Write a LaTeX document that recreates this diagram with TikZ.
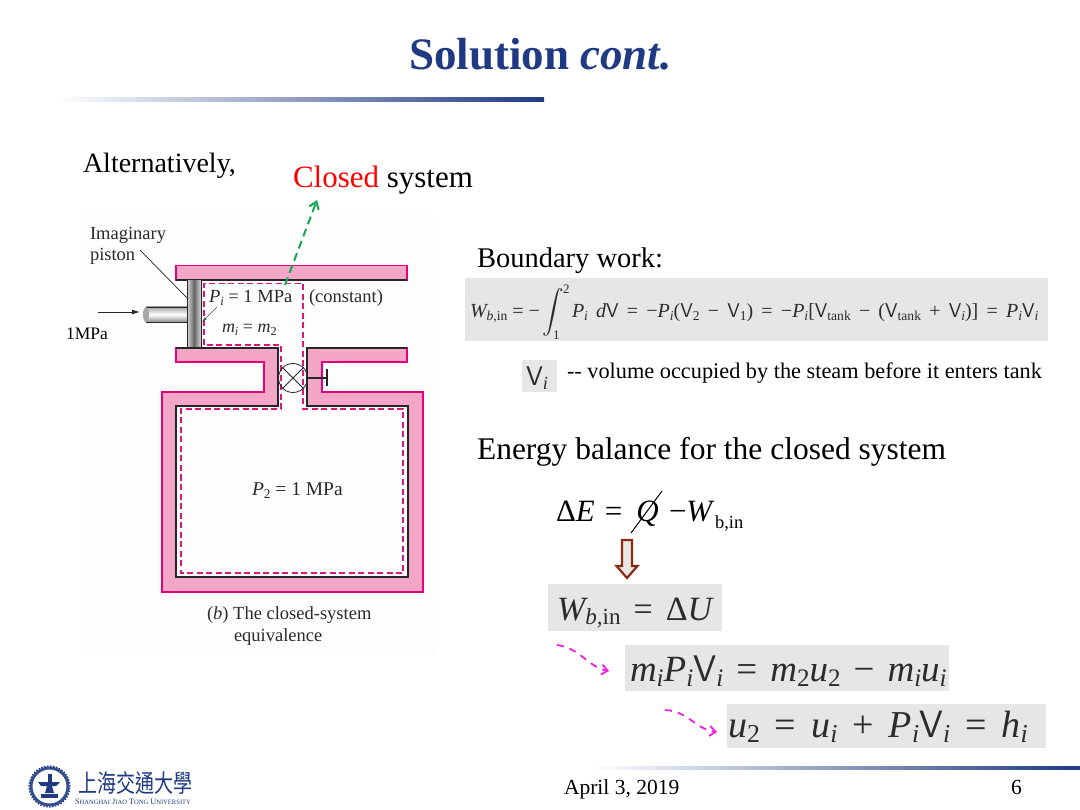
\documentclass[tikz,border=0pt]{standalone}
\usepackage{fontspec}
\setmainfont{Liberation Serif}
\newfontfamily\uif{Liberation Serif}
\newfontfamily\cjkf{Noto Sans CJK TC}
\usetikzlibrary{arrows.meta}
\definecolor{navy}{HTML}{1F3A82}
\definecolor{wallfill}{HTML}{F4A6C6}
\definecolor{wallline}{HTML}{E6007E}
\definecolor{eqgrey}{HTML}{E6E6E6}
\definecolor{inktxt}{HTML}{2B2B2B}
\definecolor{dashpink}{HTML}{D6187F}
\definecolor{dgreen}{HTML}{12A84E}
\definecolor{brownred}{HTML}{8B2A10}
\definecolor{arrowpink}{HTML}{F020E0}
\newcommand{\Vv}{{\sffamily V}}
\newcommand{\lo}[1]{\raisebox{-.32ex}{\scalebox{.68}{#1}}}
\newcommand{\ilo}[1]{\raisebox{-.32ex}{\scalebox{.68}{\itshape #1}}}
\newcommand{\gp}{\hspace{15pt}}
\newcommand{\gq}{\hspace{13pt}}
\tikzset{
 txt/.style={anchor=base west,inner sep=0pt,outer sep=0pt},
 body/.style={txt,font=\uif\fontsize{28.5}{30}\selectfont},
 fig/.style={txt,text=inktxt,font=\fontsize{18.5}{20}\selectfont},
 wall/.style={fill=wallfill,draw=wallline,line width=1.7pt,line join=miter},
 blk/.style={draw=black!85,line width=2pt},
 sysdash/.style={draw=dashpink,line width=1.4pt,dash pattern=on 6pt off 3.5pt},
 pinkarrow/.style={draw=arrowpink,line width=1.8pt,dash pattern=on 7pt off 6pt,-{Straight Barb[length=6pt,width=10pt]}},
}
\begin{document}
\begin{tikzpicture}[x=1pt,y=-1pt]
\useasboundingbox (0,0) rectangle (1080,810);
\fill[white] (0,0) rectangle (1080,810);
% title
\node[txt,text=navy,font=\uif\bfseries\fontsize{45}{48}\selectfont] (title) at (409,70) {Solution \textit{cont.}};
\shade[left color=white,right color=navy] (56,97.5) rectangle (544,102);
% texts
\node[body,font=\uif\fontsize{28}{30}\selectfont] (alt) at (83,173) {Alternatively,};
\node[body,font=\uif\fontsize{31}{33}\selectfont] (closed) at (293,188) {\textcolor{red}{Closed} system};
\node[body] (bw) at (477,268) {Boundary work:};
\node[body,font=\uif\fontsize{31.5}{33}\selectfont] (eb) at (477,460) {Energy balance for the closed system};
% figure background
\fill[black!0.8] (80,215) rectangle (436,655);
% walls
\draw[wall] (176,265.5) rectangle (407,280);
\draw[wall] (176,348)--(278,348)--(278,406)--(176,406)--(176,577)--(408,577)--(408,406)--(307,406)--(307,348)--(407,348)--(407,362)--(322,362)--(322,392)--(423,392)--(423,592)--(162,592)--(162,392)--(264,392)--(264,362)--(176,362)--cycle;
\draw[blk] (176,280)--(407,280);
\draw[blk] (176,348)--(278,348)--(278,406)--(176,406)--(176,577)--(408,577)--(408,406)--(307,406)--(307,348)--(407,348);
% rod and piston
\shade[top color=black!35,bottom color=black!45,middle color=white] (146,307) rectangle (187,322);
\draw[black!85,line width=.8pt] (146,307)--(187,307) (146,322)--(187,322);
\fill[black!35] (146,314.5) ellipse (3pt and 7.5pt);
\shade[left color=black!15,right color=black!60] (187,280) rectangle (194,348);
\shade[left color=black!60,right color=black!15] (194,280) rectangle (201,348);
\draw[black!85,line width=1pt] (187,280) rectangle (201,348);
% system boundary
\draw[sysdash] (204,345)--(204,283.5)--(303,283.5)--(303,409)--(403,409)--(403,573)--(181,573)--(181,409)--(281,409)--(281,345)--cycle;
% valve
\node[circle,draw=black!85,line width=.8pt,minimum size=29pt,inner sep=0pt] (valve) at (293,378) {};
\draw[black!85,line width=.8pt] (valve.45)--(valve.225) (valve.135)--(valve.315);
\coordinate (stemend) at (327,378);
\draw[black!85,line width=1.1pt] (valve.east)--(stemend);
\draw[black!85,line width=2pt] (327,369)--(327,386);
% figure labels
\node[fig] (imag) at (90,240) {Imaginary};
\node[fig] (pist) at (90,261) {piston};
\coordinate (pa) at (140,250); \coordinate (pb) at (187,298);
\draw[black!85,line width=.7pt] (pa)--(pb);
\coordinate (fa) at (98,312); \coordinate (fb) at (140,312);
\draw[black!85,line width=.9pt,-{Latex[length=8pt,width=5pt]}] (fa)--(fb);
\node[txt,font=\uif\fontsize{17.5}{19}\selectfont] (mpa) at (66,340) {1MPa};
\node[fig] (pi) at (209,303) {\textit{P}\ilo{i} = 1 MPa};
\node[fig] (const) at (309,303) {(constant)};
\node[fig,font=\fontsize{18}{20}\selectfont] (mi) at (222,333) {\textit{m\ilo{i}} = \textit{m}\lo{2}};
\coordinate (sa) at (217,307); \coordinate (sb) at (202,322);
\draw[black!70,line width=.5pt,-{Latex[length=5pt,width=3pt]}] (sa)--(sb);
\node[fig,font=\fontsize{19.5}{21}\selectfont] (p2) at (252,496) {\textit{P}\lo{2} = 1 MPa};
\node[fig] (c1) at (207,619) {(\textit{b}) The closed-system};
\node[fig] (c2) at (234,641) {equivalence};
% green arrow
\coordinate (ga) at (285,285); \coordinate (gb) at (317,200);
\draw[dgreen,line width=2pt,dash pattern=on 8pt off 5pt,-{Straight Barb[length=7pt,width=10pt]}] (ga)--(gb);
% boundary work eq
\fill[eqgrey] (465,278) rectangle (1048,341);
\node[txt,text=inktxt,font=\fontsize{20}{22}\selectfont] (weq) at (470,318) {\textit{W\ilo{b,}}\lo{in} = −};
\node[text=inktxt,inner sep=0pt] (integ) at (553,312) {\scalebox{2.15}{$\displaystyle\int$}};
\node[txt,text=inktxt,font=\fontsize{13}{13}\selectfont] (i2) at (563,294) {2};
\node[txt,text=inktxt,font=\fontsize{13}{13}\selectfont] (i1) at (553,340) {1};
\node[txt,text=inktxt,font=\fontsize{20}{22}\selectfont] (weq2) at (572,318) {\spaceskip=8.2pt\textit{P\ilo{i} d}\Vv\ = −\textit{P\ilo{i}}(\Vv\lo{2} − \Vv\lo{1}) = −\textit{P\ilo{i}}[\Vv\lo{tank} − (\Vv\lo{tank} + \Vv\ilo{i})] = \textit{P\ilo{i}}\Vv\ilo{i}};
% Vi
\fill[eqgrey] (522,360) rectangle (557,392);
\node[txt,text=inktxt,font=\sffamily\fontsize{27}{29}\selectfont] (vi) at (526,386) {V\ilo{\uif i}};
\node[txt,font=\uif\fontsize{22.3}{24}\selectfont] (vol) at (567,379) {-- volume occupied by the steam before it enters tank};
% energy balance
\node[txt,font=\fontsize{31}{33}\selectfont] (de) at (556,521) {Δ\textit{E}\hspace{10pt}=\hspace{14pt}\textit{Q}};
\node[txt,font=\fontsize{31}{33}\selectfont] (mw) at (669,521) {−\textit{W}};
\node[txt,font=\fontsize{18.5}{20}\selectfont] (sbin) at (715,529) {b,in};
\coordinate (qa) at (631,533); \coordinate (qb) at (662,491);
\draw[black,line width=1pt] (qa)--(qb);
% double arrow
\draw[draw=brownred,fill=eqgrey,line width=2.2pt,line join=miter] (622,540)--(632,540)--(632,566)--(637.5,566)--(627,578)--(616.5,566)--(622,566)--cycle;
% eqs
\fill[eqgrey] (548,584) rectangle (722,631);
\node[txt,text=inktxt,font=\fontsize{34}{36}\selectfont] (e1) at (557,620) {\textit{W\ilo{b,}}\lo{in}\gq=\gq Δ\textit{U}};
\fill[eqgrey] (625,645) rectangle (949,691);
\node[txt,text=inktxt,font=\fontsize{37}{39}\selectfont] (e2) at (630,681) {\textit{m\ilo{i}P\ilo{i}}\Vv\ilo{i}\gq=\gq\textit{m}\lo{2}\textit{u}\lo{2}\gq−\gq\textit{m\ilo{i}u\ilo{i}}};
\fill[eqgrey] (727,704) rectangle (1046,748);
\node[txt,text=inktxt,font=\fontsize{38}{40}\selectfont] (e3) at (728,737) {\textit{u}\lo{2}\gp=\gp\textit{u\ilo{i}}\gp+\gp\textit{P\ilo{i}}\Vv\ilo{i}\gp=\gp\textit{h\ilo{i}}};
% pink arrows
\coordinate (a1) at (557,645); \coordinate (a2) at (609,671);
\draw[pinkarrow] (a1) .. controls (580,648) and (588,667) .. (a2);
\coordinate (a3) at (665,710); \coordinate (a4) at (717,732);
\draw[pinkarrow] (a3) .. controls (688,711) and (695,729) .. (a4);
% footer
\shade[left color=white,right color=navy] (590,766) rectangle (1080,769.5);
\node[txt,font=\uif\fontsize{21.5}{23}\selectfont] (date) at (564,794) {April 3, 2019};
\node[txt,font=\uif\fontsize{21.5}{23}\selectfont] (pg) at (1011,794) {6};
% logo
\node[circle,draw=navy!90,fill=white,line width=3pt,minimum size=37pt,inner sep=0pt] (seal) at (49.5,786.5) {};
\draw[navy,line width=1.2pt,dash pattern=on 1.5pt off 1.5pt] (49.5,786.5) circle (20.5pt);
\fill[navy] (38,782) -- (60,782) -- (56,786) -- (52,786) -- (54,793) -- (45,793) -- (47,786) -- (41,786) --cycle;
\fill[navy] (47.5,774) rectangle (51.5,782);
\fill[navy] (41,794) rectangle (58,798);
\node[txt,text=navy,font=\cjkf\fontsize{19}{21}\selectfont] (cn) at (78,792) {\scalebox{1}[1.3]{上海交通大學}};
\node[txt,text=navy,font=\uif\fontsize{8.2}{9}\selectfont] (en) at (75,804) {S\scalebox{.8}{HANGHAI} J\scalebox{.8}{IAO} T\scalebox{.8}{ONG} U\scalebox{.8}{NIVERSITY}};
\end{tikzpicture}
\end{document}
